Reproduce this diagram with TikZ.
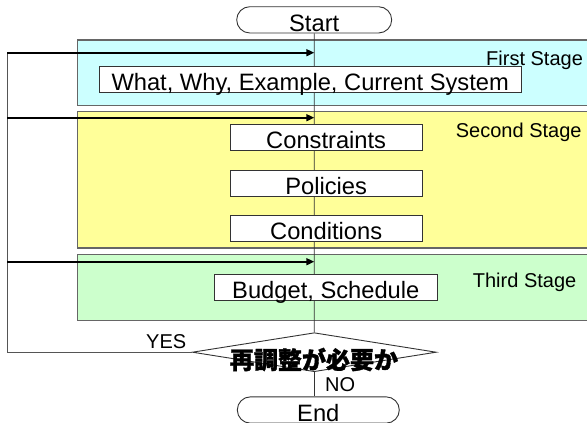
\documentclass[tikz,border=0pt]{standalone}
\usepackage{fontspec}
\setmainfont{Liberation Sans}
\newfontfamily\cjkfont{Noto Sans CJK JP}[BoldFeatures={FakeBold=1.5}]
\usetikzlibrary{shapes.geometric,shapes.misc,arrows.meta}
\definecolor{cyanfill}{HTML}{CCFFFF}
\definecolor{yellowfill}{HTML}{FFFF99}
\definecolor{greenfill}{HTML}{CCFFCC}
\definecolor{stageline}{HTML}{666666}
\definecolor{boxline}{HTML}{333333}
\definecolor{loopline}{HTML}{555555}
\begin{document}
\begin{tikzpicture}[x=1pt,y=-1pt,
  stagebox/.style={draw=stageline, line width=1.4pt, inner sep=0pt, anchor=north west, minimum width=530pt},
  txtbox/.style={draw=boxline, fill=white, line width=0.9pt, inner xsep=0pt, inner ysep=0pt,
                 text height=24pt, text depth=2pt, font=\fontsize{23.7}{26}\selectfont},
  term/.style={rounded rectangle, draw=boxline, fill=white, line width=0.9pt, inner xsep=0pt, inner ysep=0pt,
               text height=25pt, text depth=1.3pt, font=\fontsize{23.7}{26}\selectfont},
  stagelabel/.style={font=\fontsize{20}{24}\selectfont, inner sep=0pt, anchor=base west},
  flow/.style={draw=boxline, line width=0.8pt},
  loop/.style={draw=loopline, line width=0.8pt},
  feedback/.style={draw=black, line width=1.6pt, -{Triangle[length=8pt,width=7pt]}}
]
\useasboundingbox (0,0) rectangle (587,423);
\clip (0,0) rectangle (587,423);
\fill[white] (0,0) rectangle (587,423);

% stage panels
\node[stagebox, fill=cyanfill, minimum height=65.7pt] (s1) at (76.7,39.3) {};
\node[stagebox, fill=yellowfill, minimum height=136.3pt] (s2) at (76.7,111) {};
\node[stagebox, fill=greenfill, minimum height=65.7pt] (s3) at (76.7,254) {};
\node[stagelabel] (l1) at (486,65) {First Stage};
\node[stagelabel] (l2) at (455.7,137.3) {Second Stage};
\node[stagelabel] (l3) at (472.7,287.3) {Third Stage};

% terminals and decision
\node[term, minimum width=155pt] (start) at (314.2,19.85) {Start};
\node[term, minimum width=162pt] (end) at (318.3,410) {End};
\node[diamond, draw=boxline, fill=white, line width=0.9pt, minimum width=244pt, minimum height=39pt, inner sep=0pt] (dec) at (314.3,352.2) {};

% main flow line
\draw[flow] (start.south) -- (dec.north);
\draw[flow] (dec.south) -- (dec.south |- end.north);

% feedback loop
\coordinate (lb) at (7.3,352.2);
\coordinate (a1) at (7.3,52.7);
\coordinate (a2) at (7.3,117.7);
\coordinate (a3) at (7.3,261.7);
\coordinate (m1) at (314.3,52.7);
\coordinate (m2) at (314.3,117.7);
\coordinate (m3) at (314.3,261.7);
\draw[loop] (dec.west) -- (lb) -- (a1);
\draw[feedback] (a1) -- (m1);
\draw[feedback] (a2) -- (m2);
\draw[feedback] (a3) -- (m3);

% text boxes
\node[txtbox, minimum width=421.7pt] (what) at (310.15,79.15) {What, Why, Example, Current System};
\node[txtbox, minimum width=192.3pt] (cons) at (326.15,137.15) {Constraints};
\node[txtbox, minimum width=192.3pt] (pol) at (326.15,183.35) {Policies};
\node[txtbox, minimum width=192.3pt] (cond) at (326.15,228.5) {Conditions};
\node[txtbox, minimum width=223pt] (bud) at (325.8,287.5) {Budget, Schedule};

% decision text and branch labels
\node[inner sep=0pt, font=\fontsize{24}{28}\selectfont\cjkfont\bfseries] (dect) at (314,359.5) {再調整が必要か};
\node[stagelabel] (yes) at (146,348) {YES};
\node[stagelabel] (no) at (325,391) {NO};
\end{tikzpicture}
\end{document}
